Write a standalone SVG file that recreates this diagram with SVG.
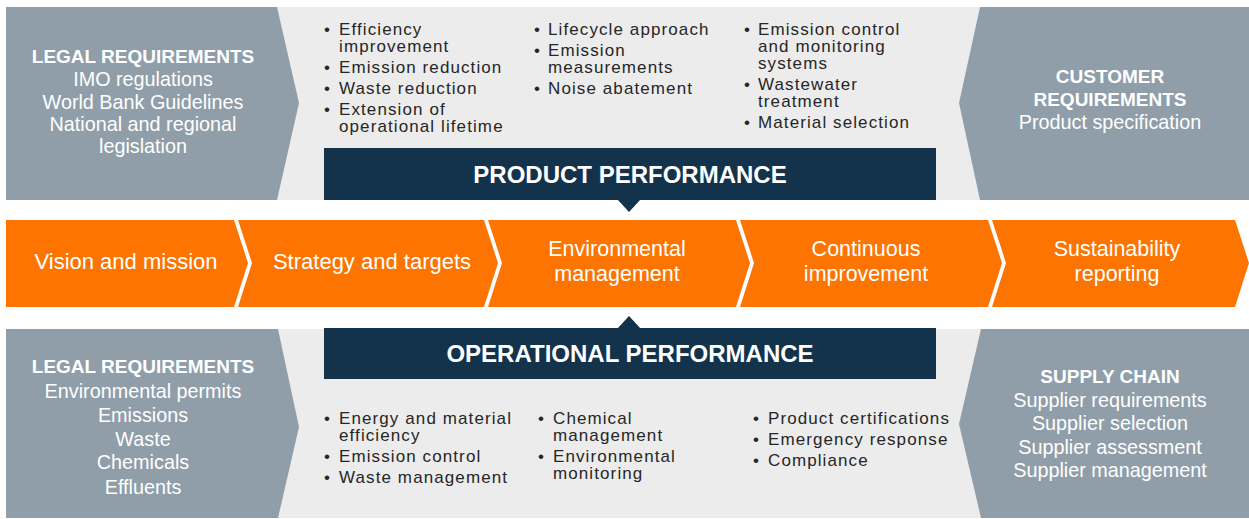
<svg xmlns="http://www.w3.org/2000/svg" width="1249" height="519" viewBox="0 0 1249 519">
<style>
.bg{fill:#ececec}
.req{fill:#8f9ea9}
.navy{fill:#12334b}
.or{fill:#fd7400}
.t{font-family:"Liberation Sans",Arial,Helvetica,sans-serif}
.wh{fill:#ffffff;font-size:19.8px;text-anchor:middle}
.whb{fill:#ffffff;font-size:19px;font-weight:bold;text-anchor:middle}
.ttl{fill:#ffffff;font-size:24px;font-weight:bold;text-anchor:middle}
.step{fill:#ffffff;font-size:22px;text-anchor:middle}
.step2{fill:#ffffff;font-size:21.5px;text-anchor:middle}
.li{fill:#262626;font-size:17px;letter-spacing:1.1px}
</style>
<rect class="bg" x="6" y="7" width="1243" height="193"/>
<rect class="bg" x="6" y="329" width="1243" height="189"/>
<g id="legal-top">
<polygon class="req" points="6,7 277,7 299,103 277,200 6,200"/>
<text class="t whb" x="143" y="63">LEGAL REQUIREMENTS</text>
<text class="t wh" x="143" y="86">IMO regulations</text>
<text class="t wh" x="143" y="109">World Bank Guidelines</text>
<text class="t wh" x="143" y="131">National and regional</text>
<text class="t wh" x="143" y="153">legislation</text>
</g>
<g id="customer">
<polygon class="req" points="980,7 1249,7 1249,200 980,200 959,103"/>
<text class="t whb" x="1110" y="83">CUSTOMER</text>
<text class="t whb" x="1110" y="106">REQUIREMENTS</text>
<text class="t wh" x="1110" y="129">Product specification</text>
</g>
<g id="product-list">
<text class="t li" x="324" y="35">•</text>
<text class="t li" x="339" y="35">Efficiency</text>
<text class="t li" x="339" y="52">improvement</text>
<text class="t li" x="324" y="73">•</text>
<text class="t li" x="339" y="73">Emission reduction</text>
<text class="t li" x="324" y="94">•</text>
<text class="t li" x="339" y="94">Waste reduction</text>
<text class="t li" x="324" y="115">•</text>
<text class="t li" x="339" y="115">Extension of</text>
<text class="t li" x="339" y="132">operational lifetime</text>
<text class="t li" x="534" y="35">•</text>
<text class="t li" x="548" y="35">Lifecycle approach</text>
<text class="t li" x="534" y="56">•</text>
<text class="t li" x="548" y="56">Emission</text>
<text class="t li" x="548" y="73">measurements</text>
<text class="t li" x="534" y="94">•</text>
<text class="t li" x="548" y="94">Noise abatement</text>
<text class="t li" x="744" y="35">•</text>
<text class="t li" x="758" y="35">Emission control</text>
<text class="t li" x="758" y="52">and monitoring</text>
<text class="t li" x="758" y="69">systems</text>
<text class="t li" x="744" y="90">•</text>
<text class="t li" x="758" y="90">Wastewater</text>
<text class="t li" x="758" y="107">treatment</text>
<text class="t li" x="744" y="128">•</text>
<text class="t li" x="758" y="128">Material selection</text>
</g>
<g id="product-performance">
<rect class="navy" x="324" y="148" width="612" height="52"/>
<polygon class="navy" points="617,199 641,199 629,212"/>
<text class="t ttl" x="630" y="183">PRODUCT PERFORMANCE</text>
</g>
<g id="steps">
<g id="step1">
<polygon class="or" points="6,220 234,220 248,263 234,307 6,307"/>
<text class="t step" x="126" y="269">Vision and mission</text>
</g>
<g id="step2">
<polygon class="or" points="238,220 484,220 498,263 484,307 238,307 252,263"/>
<text class="t step" x="372" y="269">Strategy and targets</text>
</g>
<g id="step3">
<polygon class="or" points="488,220 736,220 750,263 736,307 488,307 502,263"/>
<text class="t step2" x="617" y="256">Environmental</text>
<text class="t step2" x="617" y="281">management</text>
</g>
<g id="step4">
<polygon class="or" points="740,220 988,220 1002,263 988,307 740,307 754,263"/>
<text class="t step2" x="866" y="256">Continuous</text>
<text class="t step2" x="866" y="281">improvement</text>
</g>
<g id="step5">
<polygon class="or" points="992,220 1235,220 1249,263 1235,307 992,307 1006,263"/>
<text class="t step2" x="1117" y="256">Sustainability</text>
<text class="t step2" x="1117" y="281">reporting</text>
</g>
</g>
<g id="operational-performance">
<rect class="navy" x="324" y="328" width="612" height="51"/>
<polygon class="navy" points="617,329 641,329 629,316"/>
<text class="t ttl" x="630" y="362">OPERATIONAL PERFORMANCE</text>
</g>
<g id="legal-bottom">
<polygon class="req" points="6,329 278,329 299,427 278,518 6,518"/>
<text class="t whb" x="143" y="373">LEGAL REQUIREMENTS</text>
<text class="t wh" x="143" y="398">Environmental permits</text>
<text class="t wh" x="143" y="422">Emissions</text>
<text class="t wh" x="143" y="446">Waste</text>
<text class="t wh" x="143" y="469">Chemicals</text>
<text class="t wh" x="143" y="494">Effluents</text>
</g>
<g id="supply-chain">
<polygon class="req" points="981,329 1249,329 1249,518 981,518 959,424"/>
<text class="t whb" x="1110" y="383">SUPPLY CHAIN</text>
<text class="t wh" x="1110" y="407">Supplier requirements</text>
<text class="t wh" x="1110" y="430">Supplier selection</text>
<text class="t wh" x="1110" y="454">Supplier assessment</text>
<text class="t wh" x="1110" y="477">Supplier management</text>
</g>
<g id="operational-list">
<text class="t li" x="324" y="424">•</text>
<text class="t li" x="339" y="424">Energy and material</text>
<text class="t li" x="339" y="441">efficiency</text>
<text class="t li" x="324" y="462">•</text>
<text class="t li" x="339" y="462">Emission control</text>
<text class="t li" x="324" y="483">•</text>
<text class="t li" x="339" y="483">Waste management</text>
<text class="t li" x="538" y="424">•</text>
<text class="t li" x="553" y="424">Chemical</text>
<text class="t li" x="553" y="441">management</text>
<text class="t li" x="538" y="462">•</text>
<text class="t li" x="553" y="462">Environmental</text>
<text class="t li" x="553" y="479">monitoring</text>
<text class="t li" x="753" y="424">•</text>
<text class="t li" x="768" y="424">Product certifications</text>
<text class="t li" x="753" y="445">•</text>
<text class="t li" x="768" y="445">Emergency response</text>
<text class="t li" x="753" y="466">•</text>
<text class="t li" x="768" y="466">Compliance</text>
</g>
</svg>
